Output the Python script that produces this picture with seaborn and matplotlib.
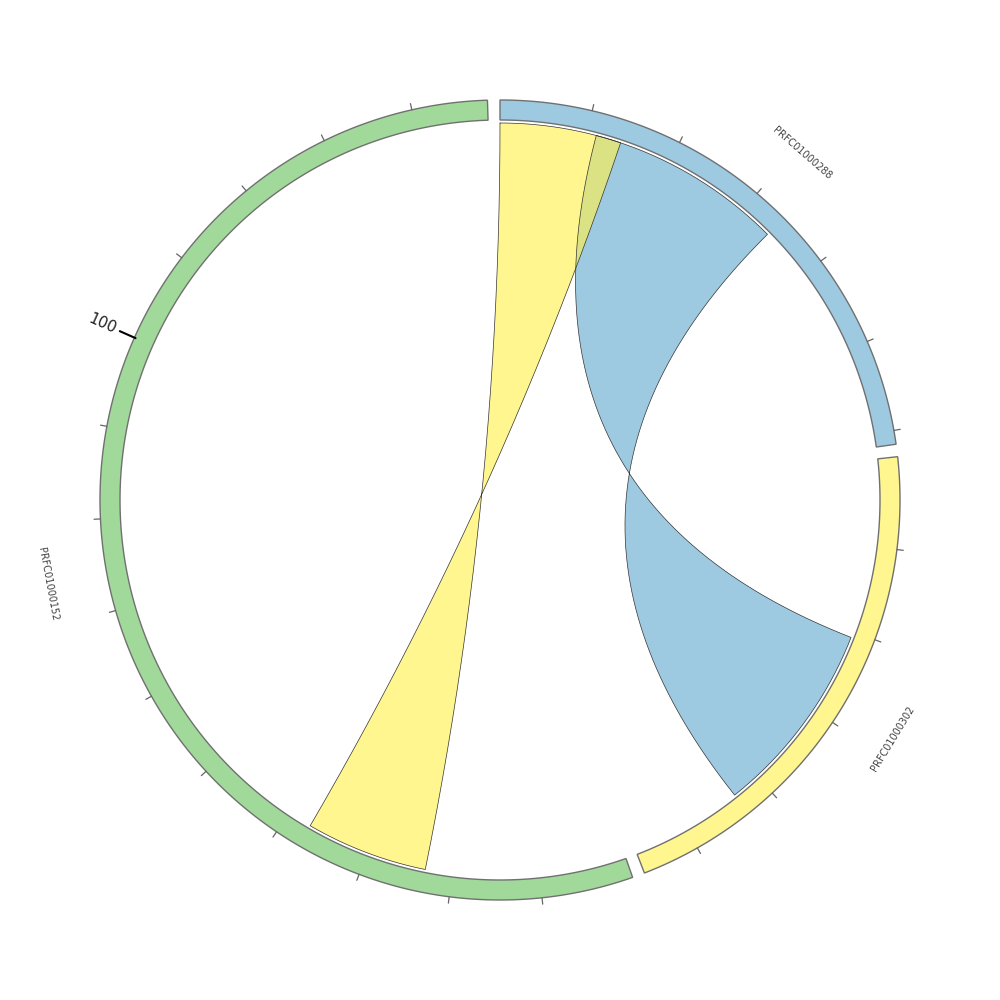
import numpy as np
import matplotlib
matplotlib.use("Agg")
import matplotlib.pyplot as plt
import seaborn as sns

# ---------------- data ----------------
contig_names = ["PRFC01000288", "PRFC01000302", "PRFC01000152"]
contig_lengths = [61.5, 56.3, 148.2]
contig_colors = ["#9ecae1", "#fff68f", "#a1d99b"]

link_src_contig = ["PRFC01000288", "PRFC01000288"]
link_src_start = [11.1, 0.0]
link_src_end = [33.9, 14.0]
link_dst_contig = ["PRFC01000302", "PRFC01000152"]
link_dst_start = [20.7, 23.1]
link_dst_end = [43.3, 37.2]
link_colors = ["#9ecae1", "#fff150"]
link_alpha = [1.0, 0.64]

major_tick = 100
minor_tick = 10

# ---------------- layout ----------------
sns.set_theme(style="white")
plt.rcParams["font.family"] = ["DejaVu Sans"]

gap_units = 1.35
total_units = sum(contig_lengths) + gap_units * len(contig_lengths)
dpu = 360.0 / total_units

starts = {}
acc = 0.0
for n, L in zip(contig_names, contig_lengths):
    starts[n] = acc * dpu
    acc += L + gap_units

R_OUT, R_IN, R_CH = 1.0, 0.95, 0.9425


def xy(theta_deg, r):
    t = np.deg2rad(theta_deg)
    return r * np.sin(t), r * np.cos(t)


def pos(contig, v):
    return starts[contig] + v * dpu


def bezier(th0, th1, r, n=200):
    x0, y0 = xy(th0, r)
    x1, y1 = xy(th1, r)
    t = np.linspace(0, 1, n)
    bx = (1 - t) ** 2 * x0 + t ** 2 * x1
    by = (1 - t) ** 2 * y0 + t ** 2 * y1
    return bx, by


fig = plt.figure(figsize=(10, 10), dpi=100)
ax = fig.add_axes([0, 0, 1, 1])
ax.set_xlim(-1.25, 1.25)
ax.set_ylim(-1.25, 1.25)
ax.set_aspect("equal")
ax.axis("off")

# bands
for n, L, c in zip(contig_names, contig_lengths, contig_colors):
    th = np.linspace(starts[n], starts[n] + L * dpu, 300)
    xo, yo = xy(th, R_OUT)
    xi, yi = xy(th[::-1], R_IN)
    ax.fill(np.concatenate([xo, xi]), np.concatenate([yo, yi]),
            facecolor=c, edgecolor="#707070", linewidth=1.0, zorder=2)
    # ticks
    for v in np.arange(minor_tick, L, minor_tick):
        th_t = pos(n, v)
        if int(round(v)) % major_tick == 0:
            x0, y0 = xy(th_t, 0.997)
            x1, y1 = xy(th_t, 1.04)
            ax.plot([x0, x1], [y0, y1], color="black", lw=1.5, zorder=3)
            tx, ty = xy(th_t, 1.088)
            rot = (90 - th_t) % 360
            if rot > 180:
                rot -= 360
            if abs(rot) > 90:
                rot = rot - 180 if rot > 0 else rot + 180
            ax.text(tx, ty, f"{int(round(v))}", rotation=rot, ha="center",
                    va="center", rotation_mode="anchor", fontsize=11,
                    color="#222222", zorder=3)
        else:
            x0, y0 = xy(th_t, 1.0)
            x1, y1 = xy(th_t, 1.016)
            ax.plot([x0, x1], [y0, y1], color="#666666", lw=0.9, zorder=3)
    # name label
    mid = starts[n] + L * dpu / 2
    lx, ly = xy(mid, 1.15)
    rot = (-mid) % 360
    if rot > 180:
        rot -= 360
    if abs(rot) > 90:
        rot = rot - 180 if rot > 0 else rot + 180
    ax.text(lx, ly, n, rotation=rot, ha="center", va="center",
            rotation_mode="anchor", fontsize=7, color="#444444", zorder=3)

# links (twisted ribbons)
for sc, ss, se, dc, ds, de, col, al in zip(link_src_contig, link_src_start,
                                           link_src_end, link_dst_contig,
                                           link_dst_start, link_dst_end,
                                           link_colors, link_alpha):
    a1s, a1e = pos(sc, ss), pos(sc, se)
    a2s, a2e = pos(dc, ds), pos(dc, de)
    arc1 = np.linspace(a1s, a1e, 100)
    ax1, ay1 = xy(arc1, R_CH)
    bx1, by1 = bezier(a1e, a2e, R_CH)
    arc2 = np.linspace(a2e, a2s, 100)
    ax2, ay2 = xy(arc2, R_CH)
    bx2, by2 = bezier(a2s, a1s, R_CH)
    X = np.concatenate([ax1, bx1, ax2, bx2])
    Y = np.concatenate([ay1, by1, ay2, by2])
    ax.fill(X, Y, facecolor=col, alpha=al, edgecolor="none", zorder=1)
    ax.plot(X, Y, color="#333333", lw=0.5, zorder=1.5)

fig.savefig("out.png", dpi=100, facecolor="white")
